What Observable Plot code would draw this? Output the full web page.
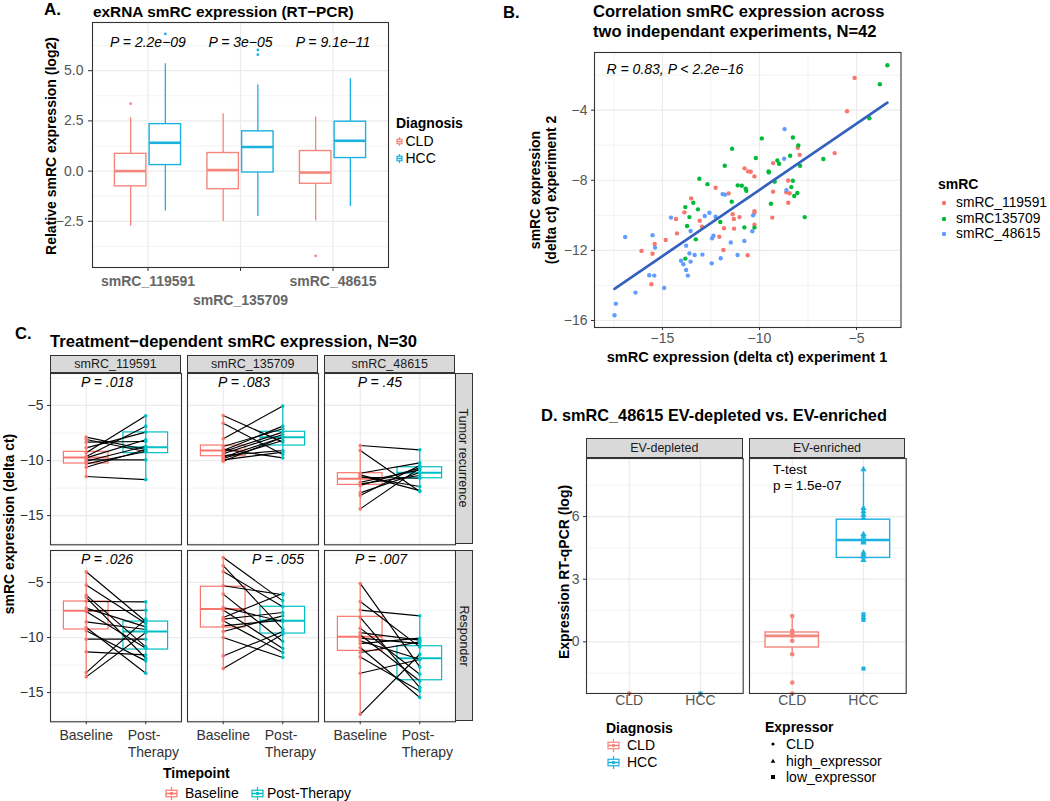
<!DOCTYPE html>
<html><head><meta charset="utf-8">
<script src="https://cdn.jsdelivr.net/npm/d3@7"></script>
<script src="https://cdn.jsdelivr.net/npm/@observablehq/plot@0.6"></script>
<style>
html,body{margin:0;padding:0;background:#fff;}
#root{position:relative;width:1050px;height:801px;overflow:hidden;background:#fff;font-family:"Liberation Sans",Arial,sans-serif;}
.strip{position:absolute;box-sizing:border-box;background:#d9d9d9;border:1px solid #333;display:flex;align-items:center;justify-content:center;font-size:12.5px;color:#1a1a1a;white-space:nowrap;overflow:visible;}
</style></head>
<body><div id="root"></div>
<script>
// ---------------- DATA ----------------
// Panel A: box statistics per smRC (order of smrcA), per diagnosis
const smrcA = ["smRC_119591", "smRC_135709", "smRC_48615"];
const diagnoses = ["CLD", "HCC"];
const aCLD_lower  = [-2.74, -2.51, -2.48];
const aCLD_q1     = [-0.76, -0.90, -0.63];
const aCLD_median = [ 0.00,  0.05, -0.07];
const aCLD_q3     = [ 0.86,  0.90,  1.00];
const aCLD_upper  = [ 2.66,  2.86,  2.69];
const aHCC_lower  = [-1.99, -2.26, -1.76];
const aHCC_q1     = [ 0.30, -0.07,  0.65];
const aHCC_median = [ 1.41,  1.20,  1.51];
const aHCC_q3     = [ 2.34,  1.98,  2.46];
const aHCC_upper  = [ 5.35,  4.29,  4.60];
const aOutlier_smrc  = ["smRC_119591", "smRC_119591", "smRC_135709", "smRC_135709", "smRC_48615"];
const aOutlier_diag  = ["CLD", "HCC", "HCC", "HCC", "CLD"];
const aOutlier_value = [3.36, 6.83, 6.03, 5.80, -4.22];
const aPvalues = ["P = 2.2e\u221209", "P = 3e\u221205", "P = 9.1e\u221211"];
const aPvalue_y = 6.42;

// Panel B: delta ct experiment 1 / experiment 2
const bSeries = ["smRC_119591", "smRC135709", "smRC_48615"];
const b119591_exp1 = [-5.10,-5.49,-6.13,-7.93,-8.03,-8.52,-8.62,-8.52,-9.30,-9.30,-9.34,-10.77,-10.59,-10.45,-10.26,-10.26,-10.26,-10.26,-11.59,-12.26,-11.38,-11.32,-11.31,-11.03,-11.83,-12.07,-11.86,-10.61,-13.08,-12.96,-13.52,-13.87,-14.30,-14.25,-14.83,-15.40,-15.51,-16.08,-15.57,-8.45];
const b119591_exp2 = [-2.16,-4.06,-6.45,-6.55,-6.15,-8.01,-8.69,-9.28,-7.02,-8.65,-10.13,-7.32,-7.49,-7.51,-7.78,-9.76,-9.85,-10.53,-8.75,-8.43,-9.94,-10.21,-10.76,-10.10,-10.74,-11.22,-11.98,-12.28,-10.31,-10.65,-9.03,-9.83,-10.21,-11.03,-11.41,-11.64,-12.19,-12.03,-13.93,-8.74];
const b135709_exp1 = [-3.41,-3.80,-4.34,-6.71,-7.67,-7.91,-8.00,-8.28,-8.42,-8.28,-8.05,-8.21,-8.36,-8.99,-9.08,-9.22,-9.41,-9.53,-9.88,-10.19,-10.26,-10.71,-10.68,-10.78,-10.91,-11.12,-11.41,-11.43,-11.79,-12.02,-12.68,-13.10,-13.41,-13.17,-13.61,-13.82,-13.73,-13.28,-13.82,-9.52];
const b135709_exp2 = [-1.44,-2.52,-4.46,-6.79,-10.10,-7.17,-6.01,-5.56,-6.60,-8.03,-8.73,-8.90,-8.39,-7.06,-6.87,-8.08,-9.34,-7.49,-5.61,-6.73,-10.70,-8.48,-8.60,-10.69,-8.31,-8.29,-6.20,-9.22,-7.17,-10.38,-8.22,-7.91,-9.28,-9.66,-10.10,-9.53,-10.61,-11.37,-12.47,-7.55];
const b48615_exp1 = [-8.71,-8.73,-8.61,-10.33,-10.37,-10.78,-11.13,-11.48,-11.78,-11.90,-12.00,-12.26,-12.37,-12.44,-12.46,-12.58,-12.82,-12.94,-13.34,-13.55,-13.78,-13.61,-13.55,-14.04,-13.92,-13.78,-13.69,-14.56,-14.91,-15.42,-15.68,-15.51,-15.38,-16.39,-16.92,-17.40,-17.47];
const b48615_exp2 = [-5.08,-6.77,-8.56,-10.00,-10.91,-11.46,-12.26,-11.55,-8.82,-8.79,-12.45,-10.08,-11.16,-11.31,-12.74,-9.85,-10.04,-12.24,-12.26,-10.89,-11.73,-12.17,-12.64,-12.59,-12.79,-13.12,-13.44,-10.13,-14.14,-13.44,-13.42,-11.13,-11.84,-14.41,-11.24,-15.04,-15.70];
const bCorrelationLabel = "R = 0.83, P < 2.2e\u221216";

// Panel C: paired delta ct (baseline -> post-therapy), facets response x smRC
const cRows = ["Tumor recurrence", "Responder"];
const cCols = ["smRC_119591", "smRC_135709", "smRC_48615"];
const timepoints = ["Baseline", "Post-Therapy"];
const tr119591_base = [-7.88,-8.09,-8.33,-8.85,-9.30,-9.64,-9.76,-9.94,-10.06,-10.30,-10.61,-11.45];
const tr119591_post = [-9.00,-9.18,-8.27,-7.42,-5.94,-6.88,-8.12,-9.94,-8.70,-9.18,-9.00,-11.73];
const tr135709_base = [-5.91,-6.61,-8.03,-8.73,-8.97,-9.09,-9.21,-9.39,-9.55,-9.70,-9.82,-9.94,-10.06];
const tr135709_post = [-8.33,-9.45,-5.06,-7.12,-9.76,-6.88,-7.42,-7.64,-9.09,-7.88,-8.18,-9.24,-7.88];
const tr48615_base  = [-8.64,-9.09,-11.15,-11.30,-11.45,-11.52,-11.97,-12.12,-12.27,-12.94,-13.18,-14.39];
const tr48615_post  = [-9.03,-12.82,-10.21,-12.73,-12.36,-11.61,-10.85,-11.36,-10.67,-11.09,-10.45,-10.67];
const r119591_base  = [-4.03,-5.24,-6.15,-6.36,-6.73,-7.33,-7.57,-7.64,-8.58,-9.09,-9.39,-10.15,-11.30,-13.18,-13.57];
const r119591_post  = [-8.55,-8.73,-10.85,-11.88,-6.76,-9.03,-7.52,-10.97,-9.27,-13.24,-12.12,-10.15,-11.58,-8.33,-9.55];
const r135709_base  = [-2.73,-3.48,-4.00,-5.30,-6.06,-7.27,-7.51,-8.18,-8.33,-8.48,-8.94,-9.45,-10.00,-11.67,-12.82];
const r135709_post  = [-6.67,-9.24,-7.21,-6.12,-10.36,-8.55,-11.00,-6.00,-7.73,-11.36,-8.42,-8.03,-11.82,-9.45,-9.70];
const r48615_base   = [-5.09,-6.73,-7.51,-8.18,-9.15,-9.55,-9.75,-10.06,-10.30,-10.55,-10.91,-11.36,-11.76,-13.24,-16.97];
const r48615_post   = [-12.67,-10.85,-8.03,-14.55,-13.33,-10.24,-13.94,-10.55,-11.97,-10.06,-15.45,-10.40,-14.85,-12.00,-11.52];
// box stats, facet order: TR-119591, TR-135709, TR-48615, R-119591, R-135709, R-48615
const cBase_q1     = [-10.27, -9.61, -12.21, -9.27, -9.09, -11.21];
const cBase_median = [ -9.73, -9.09, -11.65, -7.57, -7.42,  -9.94];
const cBase_q3     = [ -9.21, -8.64, -11.15, -6.73, -5.39,  -8.12];
const cPost_q1     = [ -9.33, -8.64, -11.61, -11.09, -9.64, -13.88];
const cPost_median = [ -8.80, -7.88, -11.12,  -9.45, -8.48, -11.88];
const cPost_q3     = [ -7.45, -7.39, -10.61,  -8.55, -7.21, -10.79];
const cPvalues = ["P = .018", "P = .083", "P = .45", "P = .026", "P = .055", "P = .007"];
const cPvalue_x = [1.35, 1.35, 1.33, 1.35, 1.92, 1.35];
const cPvalue_y = -2.95;

// Panel D: smRC_48615 EV fractions
const dFractions = ["EV-depleted", "EV-enriched"];
const expressors = ["CLD", "high_expressor", "low_expressor"];
const dEnriched_CLD  = [1.24, 0.53, 0.41, 0.29, 0.05, -0.59, -1.95, null]; // null = not detected (drawn at axis floor)
const dEnriched_HCC_high = [8.26, 6.40, 6.24, 6.08, 5.92, 5.15, 5.04, 4.83, 4.75, 4.27, 4.16, 4.07, 3.91];
const dEnriched_HCC_low  = [1.32, 1.16, 1.05, -1.28];
const dDepleted_CLD = [null];
const dDepleted_HCC_low = [null];
const dBox_diag   = ["CLD", "HCC"];
const dBox_lower  = [-0.59, 3.88];
const dBox_q1     = [-0.27, 4.02];
const dBox_median = [ 0.29, 4.88];
const dBox_q3     = [ 0.45, 5.85];
const dBox_upper  = [ 1.24, 8.26];
const dTestLabel = "T-test\np = 1.5e-07";
const dTest_x = 0.73, dTest_y = 7.9;

// ---------------- HELPERS ----------------
const FONT = '"Liberation Sans", Arial, Helvetica, sans-serif';
const root = document.getElementById("root");
const colAD = {CLD: "#F3877D", HCC: "#1BB1E0"};
const colB = {"smRC_119591": "#F8766D", "smRC135709": "#00BA38", "smRC_48615": "#619CFF"};
const colC = {"Baseline": "#F8766D", "Post-Therapy": "#00BFC4"};
const GRID = "#ebebeb";

function put(node, left, top) {
  node.style.position = "absolute";
  node.style.left = left + "px";
  node.style.top = top + "px";
  root.appendChild(node);
}
function label(text, x, y, o = {}) {
  const d = document.createElement("div");
  d.textContent = text;
  d.style.position = "absolute";
  d.style.left = x + "px"; d.style.top = y + "px";
  d.style.whiteSpace = "pre";
  d.style.lineHeight = (o.lh || 1.15);
  d.style.fontFamily = FONT;
  d.style.fontSize = (o.size || 14) + "px";
  d.style.fontWeight = o.bold ? "bold" : "normal";
  d.style.fontStyle = o.italic ? "italic" : "normal";
  d.style.color = o.color || "#000";
  d.style.textAlign = o.align || "left";
  const ax = o.anchor === "middle" ? "-50%" : o.anchor === "end" ? "-100%" : "0";
  d.style.transform = o.rotate ? `translate(-50%,-50%) rotate(${o.rotate}deg)` : `translate(${ax},-50%)`;
  root.appendChild(d);
  return d;
}
function svgIcon(html, cx, cy, w, h) {
  const d = document.createElement("div");
  d.innerHTML = `<svg width="${w}" height="${h}" style="display:block;overflow:visible">${html}</svg>`;
  put(d, cx - w / 2, cy - h / 2);
}
function boxGlyph(color, w, h, dot) {
  return `<line x1="${w/2}" x2="${w/2}" y1="0" y2="${h}" stroke="${color}" stroke-width="1.2"/>` +
    `<rect x="1" y="${h*0.25}" width="${w-2}" height="${h*0.5}" fill="white" stroke="${color}" stroke-width="1.2"/>` +
    `<line x1="1" x2="${w-1}" y1="${h/2}" y2="${h/2}" stroke="${color}" stroke-width="1.5"/>` +
    (dot ? `<circle cx="${w/2}" cy="${h/2}" r="1.7" fill="${color}"/>` : "");
}
function strip(text, x, y, w, h, vertical) {
  const d = document.createElement("div");
  d.className = "strip";
  d.style.left = x + "px"; d.style.top = y + "px";
  d.style.width = w + "px"; d.style.height = h + "px";
  d.style.fontFamily = FONT;
  if (vertical) d.innerHTML = `<span style="display:inline-block;transform:rotate(90deg)">${text}</span>`;
  else d.textContent = text;
  root.appendChild(d);
}
function grid(xMajor, xMinor, yMajor, yMinor) {
  return [
    Plot.ruleY(yMinor, {stroke: GRID, strokeWidth: 0.6}),
    Plot.ruleX(xMinor, {stroke: GRID, strokeWidth: 0.6}),
    Plot.ruleY(yMajor, {stroke: GRID, strokeWidth: 1.2}),
    Plot.ruleX(xMajor, {stroke: GRID, strokeWidth: 1.2})
  ];
}
function makePlot({fx, fy, fw, fh, mL = 10, mR = 10, mT = 10, mB = 10, x, y, symbol, marks}) {
  const p = Plot.plot({
    width: fw + mL + mR, height: fh + mT + mB,
    marginLeft: mL, marginRight: mR, marginTop: mT, marginBottom: mB,
    x, y, symbol, color: {type: "identity"},
    style: {fontFamily: FONT, fontSize: "14px", background: "none", overflow: "visible"},
    marks
  });
  put(p, fx - mL, fy - mT);
  return p;
}

// ---------------- PANEL A ----------------
{
  const DODGE = 0.1875, HALF = 0.17;
  const stats = {
    CLD: [aCLD_lower, aCLD_q1, aCLD_median, aCLD_q3, aCLD_upper],
    HCC: [aHCC_lower, aHCC_q1, aHCC_median, aHCC_q3, aHCC_upper]
  };
  const boxes = [];
  smrcA.forEach((s, i) => diagnoses.forEach((g, j) => {
    const [lo, q1, md, q3, hi] = stats[g].map(a => a[i]);
    boxes.push({smrc: s, diag: g, lo, q1, md, q3, hi});
  }));
  const pos = d => smrcA.indexOf(d.smrc) + 1 + (d.diag === "CLD" ? -DODGE : DODGE);
  const outliers = aOutlier_value.map((v, i) => ({smrc: aOutlier_smrc[i], diag: aOutlier_diag[i], v}));
  const pLabels = aPvalues.map((t, i) => ({smrc: smrcA[i], t, y: aPvalue_y}));
  makePlot({
    fx: 92, fy: 22, fw: 296, fh: 245, mL: 92, mR: 10, mT: 22, mB: 60,
    x: {domain: [0.4, 3.6]}, y: {domain: [-4.8, 7.4]},
    marks: [
      ...grid([1, 2, 3], [], [-2.5, 0, 2.5, 5], [-3.75, -1.25, 1.25, 3.75, 6.25]),
      Plot.ruleX(boxes, {x: pos, y1: "lo", y2: "hi", stroke: d => colAD[d.diag], strokeWidth: 1.3}),
      Plot.rect(boxes, {x1: d => pos(d) - HALF, x2: d => pos(d) + HALF, y1: "q1", y2: "q3", fill: "white", stroke: d => colAD[d.diag], strokeWidth: 1.4}),
      Plot.ruleY(boxes, {x1: d => pos(d) - HALF, x2: d => pos(d) + HALF, y: "md", stroke: d => colAD[d.diag], strokeWidth: 2.6}),
      Plot.dot(outliers, {x: pos, y: "v", r: 1.4, fill: d => colAD[d.diag], stroke: "none"}),
      Plot.text(pLabels, {x: d => smrcA.indexOf(d.smrc) + 1, y: "y", text: "t", fontStyle: "italic", fontSize: 14, fill: "#000"}),
      Plot.frame({stroke: "#333", strokeWidth: 1.1}),
      Plot.axisY({ticks: [-2.5, 0, 2.5, 5], tickFormat: d3.format(".1f"), tickSize: 4, tickPadding: 5, fontSize: 14, fill: "#555", stroke: "#333", label: null}),
      Plot.axisX({ticks: [1, 2, 3], tickFormat: () => "", tickSize: 4, stroke: "#333", label: null}),
      Plot.text(smrcA.filter((_, i) => i !== 1), {x: d => smrcA.indexOf(d) + 1, text: d => d, frameAnchor: "bottom", dy: 18, fontWeight: "bold", fontSize: 14, fill: "#666"}),
      Plot.text(smrcA.filter((_, i) => i === 1), {x: d => smrcA.indexOf(d) + 1, text: d => d, frameAnchor: "bottom", dy: 37, fontWeight: "bold", fontSize: 14, fill: "#666"})
    ]
  });
  label("A.", 44, 10, {bold: true, size: 17});
  label("exRNA smRC expression (RT\u2212PCR)", 93, 12, {bold: true, size: 15.4});
  label("Relative smRC expression (log2)", 51, 146, {bold: true, size: 14, rotate: -90});
  label("Diagnosis", 396, 123, {bold: true, size: 14});
  diagnoses.forEach((g, i) => {
    svgIcon(boxGlyph(colAD[g], 7, 9, false), 399, 141 + i * 17, 7, 9);
    label(g, 405.5, 141 + i * 17, {size: 14});
  });
}

// ---------------- PANEL B ----------------
{
  const pts = [];
  [[b119591_exp1, b119591_exp2, bSeries[0]], [b135709_exp1, b135709_exp2, bSeries[1]], [b48615_exp1, b48615_exp2, bSeries[2]]]
    .forEach(([xs, ys, s]) => xs.forEach((v, i) => pts.push({smrc: s, e1: v, e2: ys[i]})));
  makePlot({
    fx: 594, fy: 52.3, fw: 306.5, fh: 275, mL: 60, mR: 10, mT: 10, mB: 40,
    x: {domain: [-18.5, -2.71]}, y: {domain: [-16.4, -0.71]},
    marks: [
      ...grid([-15, -10, -5], [-17.5, -12.5, -7.5], [-16, -12, -8, -4], [-14, -10, -6, -2]),
      Plot.dot(pts, {x: "e1", y: "e2", r: 2.2, fill: d => colB[d.smrc], stroke: "none"}),
      Plot.linearRegressionY(pts, {x: "e1", y: "e2", stroke: "#3461BD", strokeWidth: 2.7, ci: 0}),
      Plot.text([{x: -17.88, y: -1.66, t: bCorrelationLabel}], {x: "x", y: "y", text: "t", textAnchor: "start", fontStyle: "italic", fontSize: 14, fill: "#000"}),
      Plot.frame({stroke: "#333", strokeWidth: 1.1}),
      Plot.axisY({ticks: [-16, -12, -8, -4], tickSize: 3, tickPadding: 4, fontSize: 14, fill: "#555", stroke: "#333", label: null}),
      Plot.axisX({ticks: [-15, -10, -5], tickSize: 3, tickPadding: 3, fontSize: 14, fill: "#555", stroke: "#333", label: null})
    ]
  });
  label("B.", 503, 12, {bold: true, size: 16.5});
  label("Correlation smRC expression across\ntwo independant experiments, N=42", 593, 22, {bold: true, size: 16.6, lh: 1.2});
  label("smRC expression\n(delta ct) experiment 2", 542.5, 190, {bold: true, size: 14, rotate: -90, align: "center", lh: 1.15});
  label("smRC expression (delta ct) experiment 1", 747, 357, {bold: true, size: 14.5, anchor: "middle"});
  label("smRC", 938, 184, {bold: true, size: 14});
  bSeries.forEach((s, i) => {
    svgIcon(`<circle cx="3" cy="3" r="2.2" fill="${colB[s]}"/>`, 944, 203 + i * 15.5, 6, 6);
    label(s, 956, 203 + i * 15.5, {size: 13.8});
  });
}

// ---------------- PANEL C ----------------
{
  const sets = {
    "Tumor recurrence|smRC_119591": [tr119591_base, tr119591_post],
    "Tumor recurrence|smRC_135709": [tr135709_base, tr135709_post],
    "Tumor recurrence|smRC_48615": [tr48615_base, tr48615_post],
    "Responder|smRC_119591": [r119591_base, r119591_post],
    "Responder|smRC_135709": [r135709_base, r135709_post],
    "Responder|smRC_48615": [r48615_base, r48615_post]
  };
  const colX = [50, 187.3, 324.3], rowY = [372.7, 550], FW = 131, FH = 171.3, HALF = 0.375;
  const tx = d => timepoints.indexOf(d.t) + 1;
  cRows.forEach((row, ri) => cCols.forEach((col, ci) => {
    const k = ri * 3 + ci;
    const [base, post] = sets[row + "|" + col];
    const long = [];
    base.forEach((v, i) => long.push({id: i, t: timepoints[0], v}));
    post.forEach((v, i) => long.push({id: i, t: timepoints[1], v}));
    const boxes = [
      {t: timepoints[0], q1: cBase_q1[k], md: cBase_median[k], q3: cBase_q3[k], lo: d3.min(base), hi: d3.max(base)},
      {t: timepoints[1], q1: cPost_q1[k], md: cPost_median[k], q3: cPost_q3[k], lo: d3.min(post), hi: d3.max(post)}
    ];
    const left = ci === 0, bottom = ri === 1;
    const marks = [
      ...grid([1, 2], [], [-15, -10, -5], [-17.5, -12.5, -7.5, -2.5]),
      Plot.rect(boxes, {x1: d => tx(d) - HALF, x2: d => tx(d) + HALF, y1: "q1", y2: "q3", fill: "white", stroke: d => colC[d.t], strokeWidth: 1.2}),
      Plot.ruleX(boxes, {x: tx, y1: "lo", y2: "hi", stroke: d => colC[d.t], strokeWidth: 1.2}),
      Plot.ruleY(boxes, {x1: d => tx(d) - HALF, x2: d => tx(d) + HALF, y: "md", stroke: d => colC[d.t], strokeWidth: 2}),
      Plot.line(long, {x: tx, y: "v", z: "id", stroke: "#000", strokeWidth: 1.15}),
      Plot.dot(long, {x: tx, y: "v", r: 1.8, fill: d => colC[d.t], stroke: "none"}),
      Plot.text([{x: cPvalue_x[k], y: cPvalue_y, t: cPvalues[k]}], {x: "x", y: "y", text: "t", fontStyle: "italic", fontSize: 14, fill: "#000"}),
      Plot.frame({stroke: "#333", strokeWidth: 1.1})
    ];
    if (left) marks.push(Plot.axisY({ticks: [-15, -10, -5], tickSize: 3, tickPadding: 4, fontSize: 14, fill: "#333", stroke: "#333", label: null}));
    if (bottom) marks.push(
      Plot.axisX({ticks: [1, 2], tickFormat: () => "", tickSize: 3, stroke: "#333", label: null}),
      Plot.text([timepoints[0]], {x: d => timepoints.indexOf(d) + 1, text: d => d, frameAnchor: "bottom", dy: 18, fontSize: 14, fill: "#333"}),
      Plot.text([timepoints[1]], {x: d => timepoints.indexOf(d) + 1, text: d => d.replace("-", "-\n"), frameAnchor: "bottom", dy: 6, dx: -18, textAnchor: "start", lineAnchor: "top", lineHeight: 1.2, fontSize: 14, fill: "#333"})
    );
    makePlot({
      fx: colX[ci], fy: rowY[ri], fw: FW, fh: FH, mL: left ? 50 : 5, mR: 5, mT: 5, mB: bottom ? 45 : 5,
      x: {domain: [0.4, 2.6], axis: bottom ? undefined : null}, y: {domain: [-17.65, -2.1], axis: left ? undefined : null},
      marks
    });
    if (ri === 0) strip(col, colX[ci], 355, FW, 18.2, false);
    if (ci === 2) strip(row, 454.5, rowY[ri], 18.8, FH, true);
  }));
  label("C.", 15, 333, {bold: true, size: 16.5});
  label("Treatment\u2212dependent smRC expression, N=30", 50, 342, {bold: true, size: 16.6});
  label("smRC expression (delta ct)", 8.5, 524, {bold: true, size: 14, rotate: -90});
  label("Timepoint", 163, 773, {bold: true, size: 14});
  svgIcon(boxGlyph(colC.Baseline, 13, 13, true), 171, 793, 13, 13);
  label("Baseline", 185, 793, {size: 14});
  svgIcon(boxGlyph(colC["Post-Therapy"], 13, 13, true), 257.5, 793, 13, 13);
  label("Post-Therapy", 267, 793, {size: 14});
}

// ---------------- PANEL D ----------------
{
  const Y0 = -2.47, Y1 = 8.78, HALF = 0.375;
  const yv = d => d.v ?? Y0;
  const pos = d => diagnoses.indexOf(d.diag) + 1;
  const byFraction = {
    "EV-depleted": {
      pts: [...dDepleted_CLD.map(v => ({diag: "CLD", e: "CLD", v})), ...dDepleted_HCC_low.map(v => ({diag: "HCC", e: "low_expressor", v}))],
      boxes: []
    },
    "EV-enriched": {
      pts: [
        ...dEnriched_CLD.map(v => ({diag: "CLD", e: "CLD", v})),
        ...dEnriched_HCC_high.map(v => ({diag: "HCC", e: "high_expressor", v})),
        ...dEnriched_HCC_low.map(v => ({diag: "HCC", e: "low_expressor", v}))
      ],
      boxes: dBox_diag.map((g, i) => ({diag: g, lo: dBox_lower[i], q1: dBox_q1[i], md: dBox_median[i], q3: dBox_q3[i], hi: dBox_upper[i]}))
    }
  };
  const panX = [586, 748.7], FW = 156.7, FY = 457.7, FH = 235;
  dFractions.forEach((f, fi) => {
    const {pts, boxes} = byFraction[f];
    const left = fi === 0;
    const marks = [
      ...grid([1, 2], [], [0, 3, 6], [-1.5, 1.5, 4.5, 7.5]),
      Plot.ruleX(boxes, {x: pos, y1: "lo", y2: "hi", stroke: d => colAD[d.diag], strokeWidth: 1.4}),
      Plot.rect(boxes, {x1: d => pos(d) - HALF, x2: d => pos(d) + HALF, y1: "q1", y2: "q3", fill: "white", stroke: d => colAD[d.diag], strokeWidth: 1.4}),
      Plot.ruleY(boxes, {x1: d => pos(d) - HALF, x2: d => pos(d) + HALF, y: "md", stroke: d => colAD[d.diag], strokeWidth: 2.6}),
      Plot.dot(pts, {x: pos, y: yv, symbol: "e", r: 2.3, fill: d => colAD[d.diag], stroke: "none"}),
      Plot.frame({stroke: "#333", strokeWidth: 1.1}),
      Plot.axisX({ticks: [1, 2], tickFormat: () => "", tickSize: 3, stroke: "#333", label: null}),
      Plot.text(diagnoses, {x: d => diagnoses.indexOf(d) + 1, text: d => d, frameAnchor: "bottom", dy: 12, fontSize: 14, fill: "#555"})
    ];
    if (left) marks.push(Plot.axisY({ticks: [0, 3, 6], tickSize: 3, tickPadding: 4, fontSize: 14, fill: "#555", stroke: "#333", label: null}));
    else marks.push(Plot.text([{x: dTest_x, y: dTest_y, t: dTestLabel}], {x: "x", y: "y", text: "t", textAnchor: "start", lineHeight: 1.16, fontSize: 13.5, fill: "#000"}));
    makePlot({
      fx: panX[fi], fy: FY, fw: FW, fh: FH, mL: left ? 30 : 5, mR: 5, mT: 5, mB: 30,
      x: {domain: [0.4, 2.6]}, y: {domain: [Y0, Y1], axis: left ? undefined : null},
      symbol: {domain: expressors, range: ["circle", "triangle", "square"]},
      marks
    });
    strip(f, panX[fi], 438.3, FW, 19.9, false);
  });
  label("D.", 541, 415, {bold: true, size: 16.5});
  label("smRC_48615 EV-depleted vs. EV-enriched", 562, 415, {bold: true, size: 16.3});
  label("Expression RT-qPCR (log)", 564, 572, {bold: true, size: 14, rotate: -90});
  label("Diagnosis", 606, 727.5, {bold: true, size: 14});
  diagnoses.forEach((g, i) => {
    svgIcon(boxGlyph(colAD[g], 13, 13, true), 613.5, 745.5 + i * 16.5, 13, 13);
    label(g, 627, 745 + i * 16.5, {size: 14});
  });
  label("Expressor", 765, 727, {bold: true, size: 14});
  const glyphs = [
    `<circle cx="3" cy="3" r="1.6" fill="#000"/>`,
    `<path d="M3,0.8 L5.3,4.8 L0.7,4.8 Z" fill="#000"/>`,
    `<rect x="1" y="1" width="4" height="4" fill="#000"/>`
  ];
  expressors.forEach((e, i) => {
    svgIcon(glyphs[i], 773, 744 + i * 16.7, 6, 6);
    label(e, 786, 744 + i * 16.7, {size: 14});
  });
}
</script></body></html>
